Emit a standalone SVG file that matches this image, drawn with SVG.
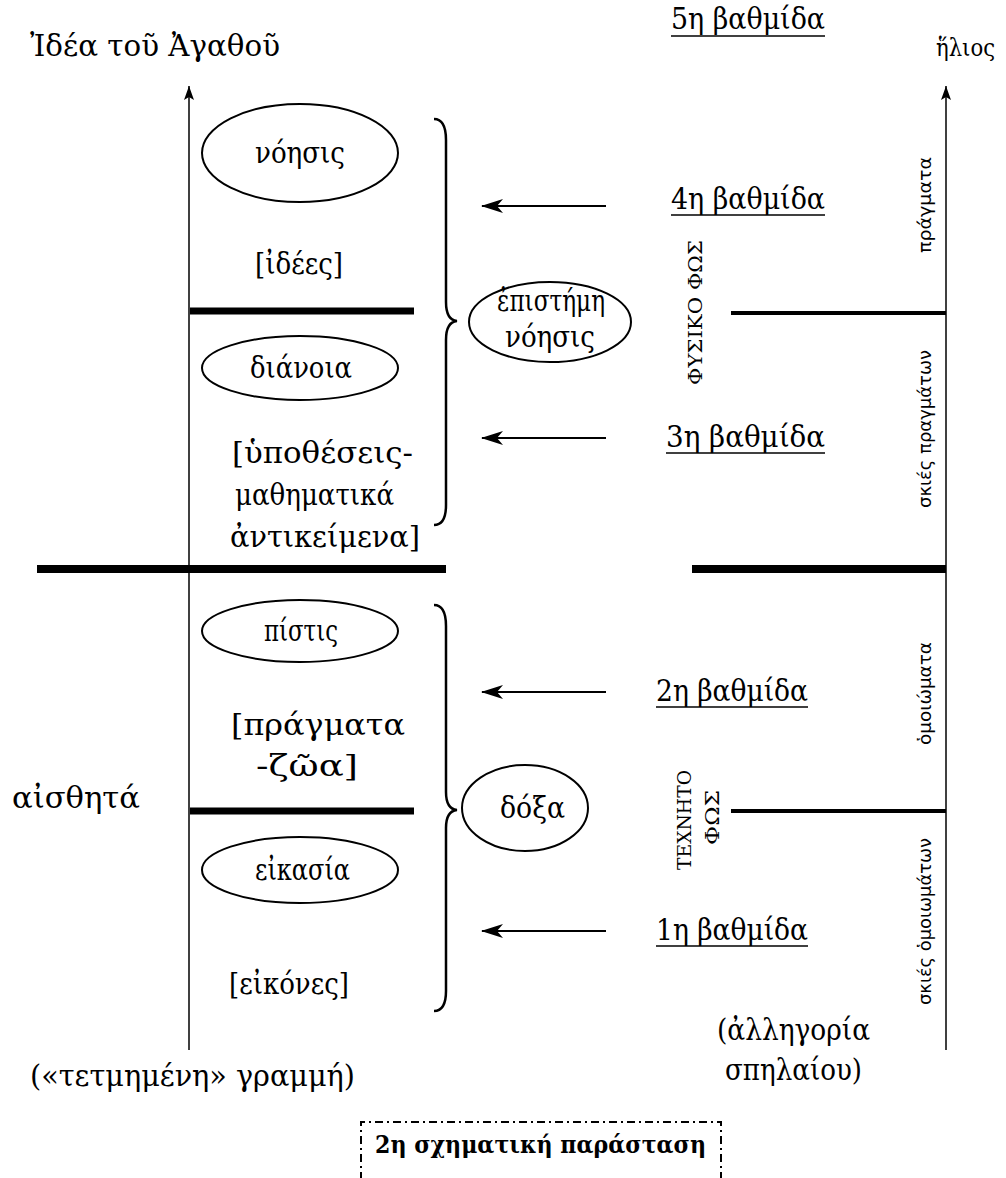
<svg xmlns="http://www.w3.org/2000/svg" width="1006" height="1178" viewBox="0 0 1006 1178">
<defs>
<style>
.t{font-family:"DejaVu Serif","Liberation Serif",serif;font-size:29px;fill:#000}
.s{font-family:"DejaVu Sans","Noto Sans",sans-serif;font-size:17px;fill:#000}
.c{font-family:"DejaVu Serif","Liberation Serif",serif;font-size:19px;fill:#000}
.b{font-family:"DejaVu Serif","Liberation Serif",serif;font-size:25px;font-weight:bold;fill:#000}
.e{fill:none;stroke:#000;stroke-width:2}
.thick{stroke:#000;stroke-width:8}
.mid{stroke:#000;stroke-width:4}
.ax{stroke:#000;stroke-width:1.5;fill:none}
.br{fill:none;stroke:#000;stroke-width:2.5}
.ul{stroke:#000;stroke-width:1.5}
.arr{stroke:#000;stroke-width:2}
</style>
<marker id="ah" markerWidth="22" markerHeight="14" refX="21" refY="7" orient="auto" markerUnits="userSpaceOnUse">
<path d="M0,0 L22,7 L0,14 L6,7 Z" fill="#000"/>
</marker>
<marker id="up" markerWidth="10" markerHeight="14" refX="5" refY="0" orient="0" markerUnits="userSpaceOnUse">
<path d="M5,0 L10,14 L5,11 L0,14 Z" fill="#000"/>
</marker>
</defs>

<g id="connectors">
<line id="axis-left" class="ax" x1="189" y1="1050" x2="189" y2="86" marker-end="url(#up)"/>
<line id="axis-right" class="ax" x1="946" y1="1050" x2="946" y2="86" marker-end="url(#up)"/>
<line class="thick" x1="37" y1="569" x2="446" y2="569"/>
<line class="thick" x1="692" y1="569" x2="946" y2="569"/>
<line class="mid" x1="190" y1="311" x2="414" y2="311" style="stroke-width:7"/>
<line class="mid" x1="731" y1="313" x2="946" y2="313"/>
<line class="mid" x1="190" y1="811" x2="414" y2="811" style="stroke-width:7"/>
<line class="mid" x1="731" y1="811" x2="946" y2="811"/>
<line class="arr" x1="606" y1="206" x2="482" y2="206" marker-end="url(#ah)"/>
<line class="arr" x1="606" y1="438" x2="482" y2="438" marker-end="url(#ah)"/>
<line class="arr" x1="606" y1="692" x2="482" y2="692" marker-end="url(#ah)"/>
<line class="arr" x1="606" y1="931" x2="482" y2="931" marker-end="url(#ah)"/>
<path class="br" d="M434,119 Q446,119 446,140 L446,302 Q446,320 457,321 Q446,322 446,340 L446,505 Q446,525 434,525"/>
<path class="br" d="M434,605 Q446,605 446,626 L446,792 Q446,809 457,810 Q446,811 446,828 L446,991 Q446,1011 434,1011"/>
</g>

<g id="title-left"><text class="t" x="30" y="56" textLength="250" lengthAdjust="spacingAndGlyphs">Ἰδέα τοῦ Ἀγαθοῦ</text></g>
<g id="title-right"><text class="t" x="936" y="56" style="font-size:25px" textLength="59" lengthAdjust="spacingAndGlyphs">ἥλιος</text></g>

<g id="step5"><text class="t" x="671" y="29" textLength="154" lengthAdjust="spacingAndGlyphs">5η βαθμίδα</text><line class="ul" x1="671" y1="36" x2="825" y2="36"/></g>
<g id="step4"><text class="t" x="671" y="209" textLength="154" lengthAdjust="spacingAndGlyphs">4η βαθμίδα</text><line class="ul" x1="671" y1="215" x2="825" y2="215"/></g>
<g id="step3"><text class="t" x="666" y="447" textLength="159" lengthAdjust="spacingAndGlyphs">3η βαθμίδα</text><line class="ul" x1="666" y1="453" x2="825" y2="453"/></g>
<g id="step2"><text class="t" x="656" y="701" textLength="152" lengthAdjust="spacingAndGlyphs">2η βαθμίδα</text><line class="ul" x1="656" y1="707" x2="808" y2="707"/></g>
<g id="step1"><text class="t" x="656" y="940" textLength="152" lengthAdjust="spacingAndGlyphs">1η βαθμίδα</text><line class="ul" x1="656" y1="946" x2="808" y2="946"/></g>

<g id="noesis"><ellipse class="e" cx="300" cy="153" rx="98" ry="49"/><text class="t" x="255" y="163" textLength="90" lengthAdjust="spacingAndGlyphs">νόησις</text></g>
<g id="ideai"><text class="t" x="255" y="274" textLength="88" lengthAdjust="spacingAndGlyphs">[ἰδέες]</text></g>
<g id="dianoia"><ellipse class="e" cx="300" cy="368" rx="98" ry="32"/><text class="t" x="250" y="378" textLength="102" lengthAdjust="spacingAndGlyphs">διάνοια</text></g>
<g id="hypotheseis">
<text class="t" x="232" y="463" textLength="181" lengthAdjust="spacingAndGlyphs">[ὑποθέσεις-</text>
<text class="t" x="235" y="505" textLength="159" lengthAdjust="spacingAndGlyphs">μαθηματικά</text>
<text class="t" x="230" y="547" textLength="190" lengthAdjust="spacingAndGlyphs">ἀντικείμενα]</text>
</g>
<g id="episteme"><ellipse class="e" cx="550" cy="322" rx="81" ry="40"/><text class="t" x="497" y="311" textLength="108" lengthAdjust="spacingAndGlyphs">ἐπιστήμη</text><text class="t" x="505" y="347" textLength="90" lengthAdjust="spacingAndGlyphs">νόησις</text></g>
<g id="pistis"><ellipse class="e" cx="300" cy="631" rx="98" ry="31"/><text class="t" x="264" y="641" textLength="74" lengthAdjust="spacingAndGlyphs">πίστις</text></g>
<g id="pragmata"><text class="t" x="231" y="735" textLength="174" lengthAdjust="spacingAndGlyphs">[πράγματα</text><text class="t" x="256" y="776" textLength="102" lengthAdjust="spacingAndGlyphs">-ζῶα]</text></g>
<g id="eikasia"><ellipse class="e" cx="300" cy="870" rx="98" ry="33"/><text class="t" x="255" y="880" textLength="95" lengthAdjust="spacingAndGlyphs">εἰκασία</text></g>
<g id="eikones"><text class="t" x="229" y="994" textLength="120" lengthAdjust="spacingAndGlyphs">[εἰκόνες]</text></g>
<g id="doxa"><ellipse class="e" cx="525" cy="808" rx="63" ry="43"/><text class="t" x="500" y="818" textLength="65" lengthAdjust="spacingAndGlyphs">δόξα</text></g>
<g id="aistheta"><text class="t" x="12" y="808" textLength="128" lengthAdjust="spacingAndGlyphs">αἰσθητά</text></g>
<g id="grammi"><text class="t" x="30" y="1086" textLength="325" lengthAdjust="spacingAndGlyphs">(«τετμημένη» γραμμή)</text></g>
<g id="allegoria"><text class="t" x="717" y="1040" textLength="153" lengthAdjust="spacingAndGlyphs">(ἀλληγορία</text><text class="t" x="725" y="1080" textLength="137" lengthAdjust="spacingAndGlyphs">σπηλαίου)</text></g>

<g id="fysiko-fos"><text class="c" transform="translate(702,385) rotate(-90)" textLength="145" lengthAdjust="spacingAndGlyphs">ΦΥΣΙΚΟ ΦΩΣ</text></g>
<g id="techneto-fos"><text class="c" transform="translate(691,870) rotate(-90)" textLength="100" lengthAdjust="spacingAndGlyphs">ΤΕΧΝΗΤΟ</text><text class="c" transform="translate(719,845) rotate(-90)" textLength="55" lengthAdjust="spacingAndGlyphs">ΦΩΣ</text></g>

<g id="v-pragmata"><text class="s" transform="translate(931,253) rotate(-90)" textLength="96" lengthAdjust="spacingAndGlyphs">πράγματα</text></g>
<g id="v-skies-pragmaton"><text class="s" transform="translate(931,508) rotate(-90)" textLength="158" lengthAdjust="spacingAndGlyphs">σκιές πραγμάτων</text></g>
<g id="v-homoiomata"><text class="s" transform="translate(931,745) rotate(-90)" textLength="103" lengthAdjust="spacingAndGlyphs">ὁμοιώματα</text></g>
<g id="v-skies-homoiomaton"><text class="s" transform="translate(931,1005) rotate(-90)" textLength="167" lengthAdjust="spacingAndGlyphs">σκιές ὁμοιωμάτων</text></g>

<g id="caption"><path d="M361,1180 L361,1122 L721,1122 L721,1180" fill="none" stroke="#000" stroke-width="2" stroke-dasharray="8,4,2,4"/><text class="b" x="375" y="1153" textLength="331" lengthAdjust="spacingAndGlyphs">2η σχηματική παράσταση</text></g>
</svg>
